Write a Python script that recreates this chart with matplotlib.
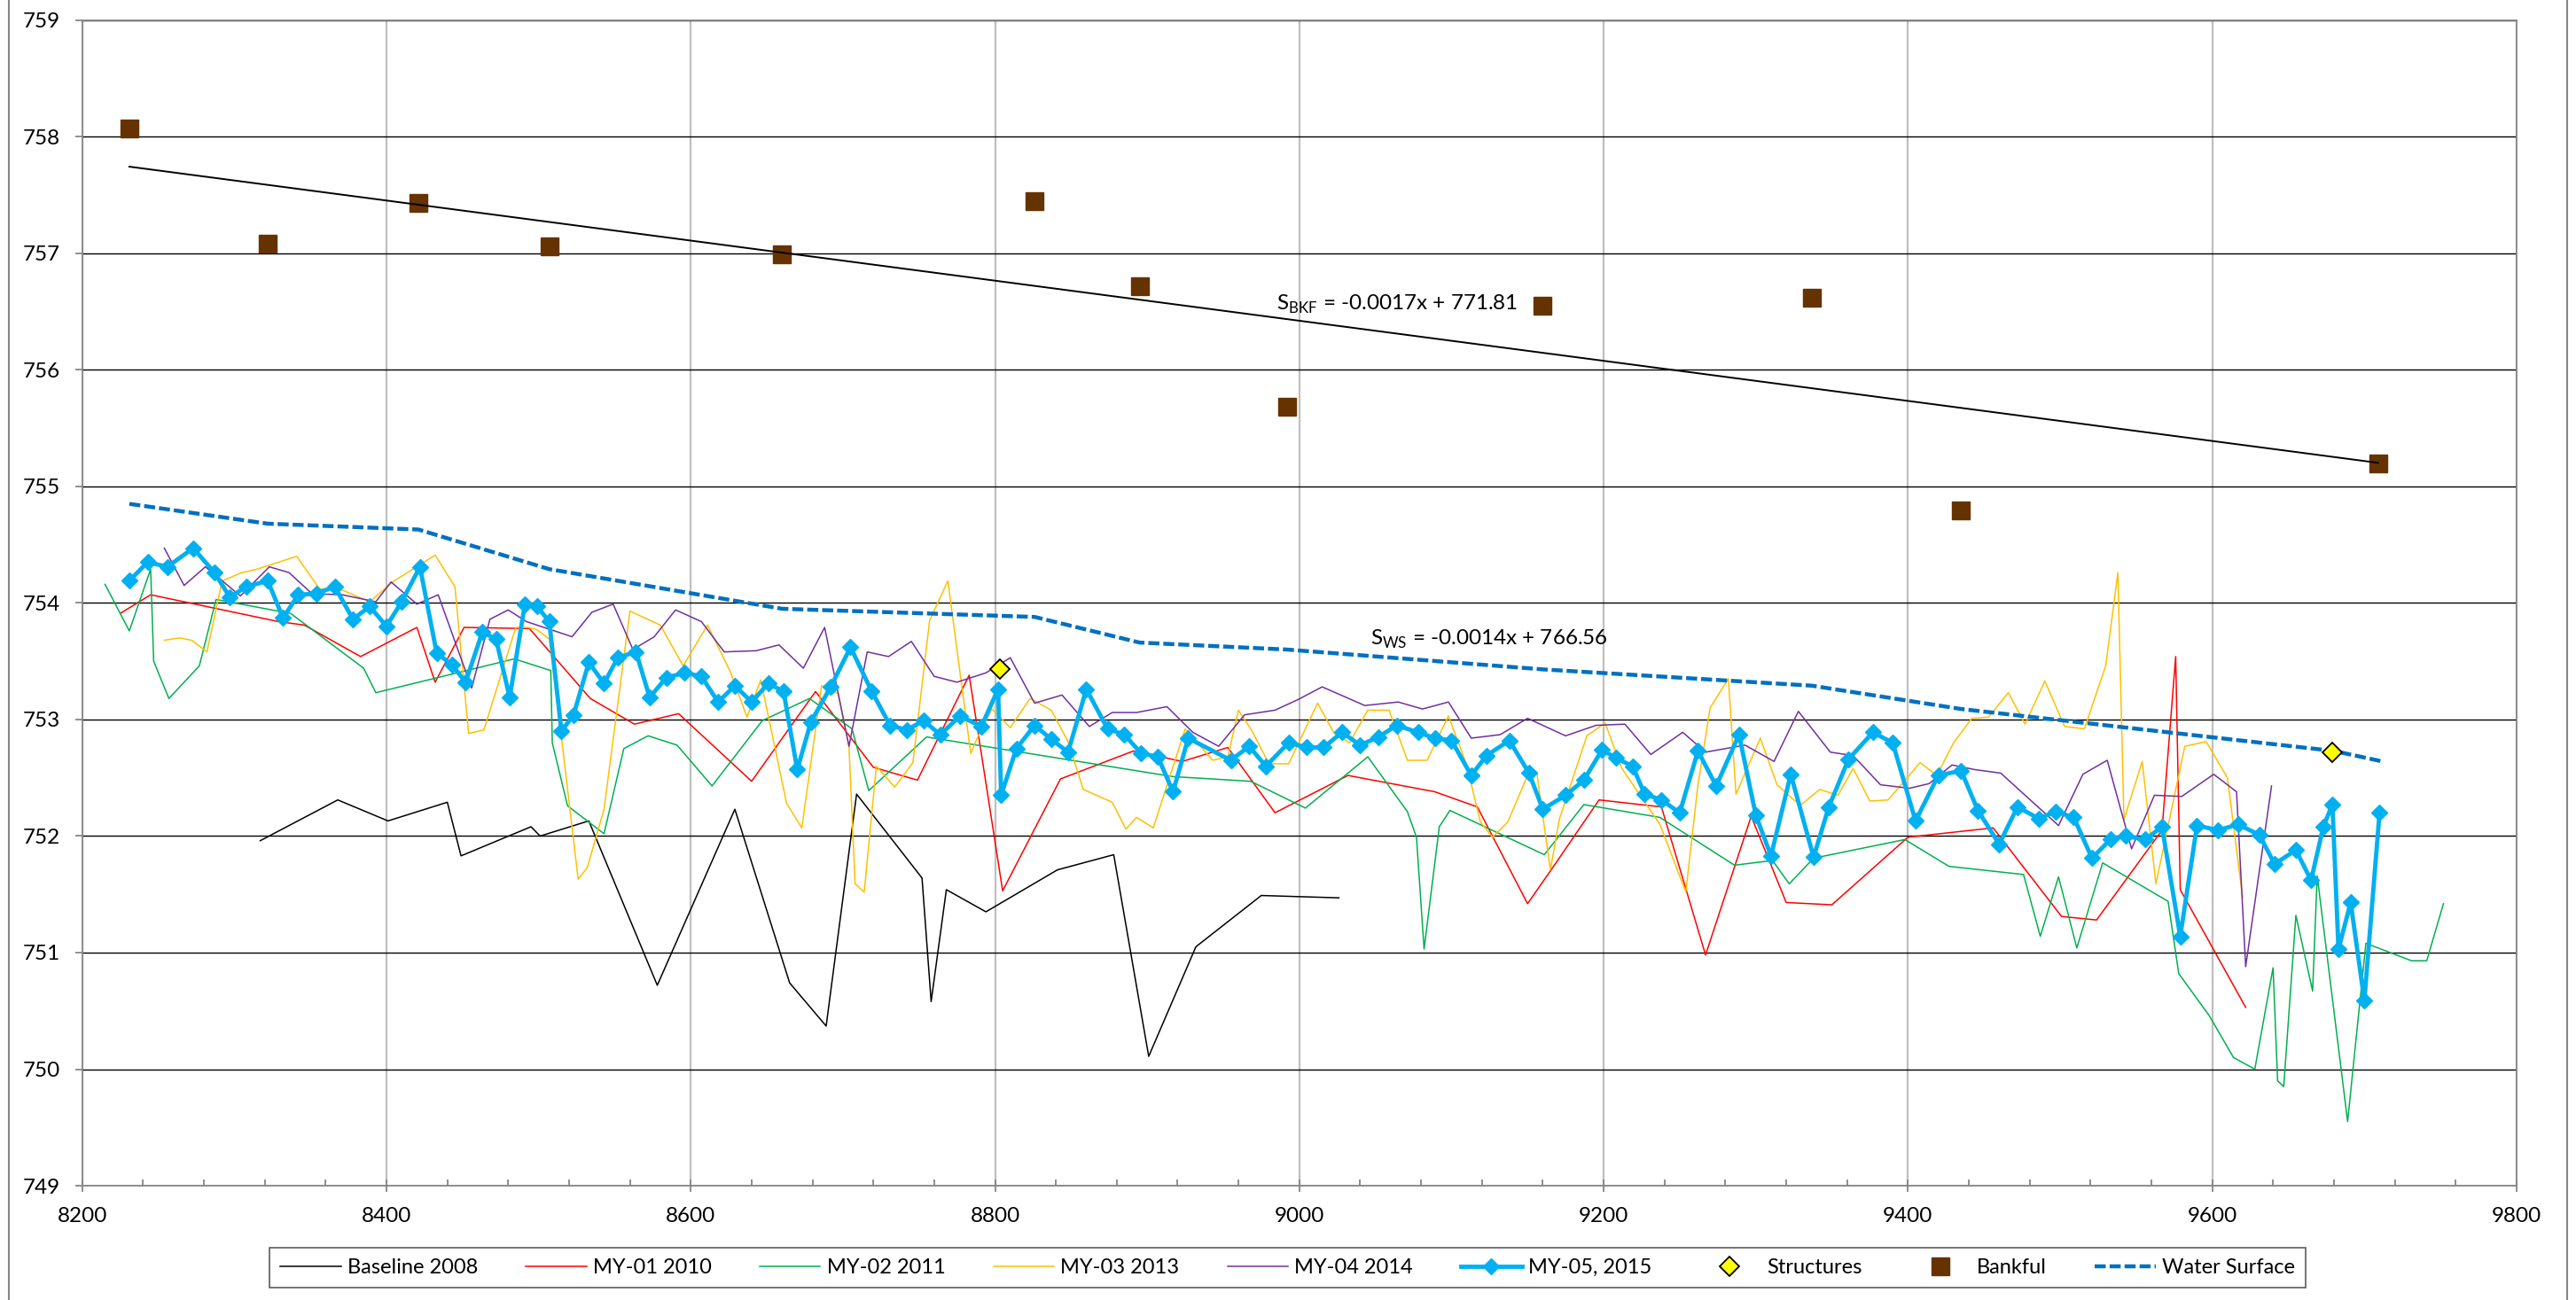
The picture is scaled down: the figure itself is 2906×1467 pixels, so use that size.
import matplotlib
matplotlib.use("Agg")
import matplotlib.pyplot as plt
import numpy as np
from matplotlib.lines import Line2D
from matplotlib.ticker import MultipleLocator

plt.rcParams['font.family'] = ['Lato', 'DejaVu Sans']
plt.rcParams['mathtext.fontset'] = 'custom'
plt.rcParams['mathtext.rm'] = 'Lato'
plt.rcParams['font.size'] = 17

# station (ft) / elevation (ft) for each survey
base_x = [8317, 8368, 8401, 8440, 8449, 8495, 8501, 8533, 8578, 8629, 8665, 8689,
          8709, 8752, 8758, 8768, 8794, 8841, 8878, 8901, 8932, 8975, 9026]
base_y = [751.96, 752.31, 752.13, 752.29, 751.83, 752.08, 752.00, 752.13, 750.72, 752.23,
          750.74, 750.37, 752.36, 751.64, 750.58, 751.54, 751.35, 751.71, 751.84, 750.11,
          751.05, 751.49, 751.47]

my01_x = [8225, 8245, 8329, 8346, 8383, 8420, 8432, 8451, 8494, 8534, 8563, 8592, 8640,
          8682, 8720, 8749, 8783, 8805, 8843, 8891, 8923, 8953, 8984, 9032, 9089, 9117,
          9150, 9165, 9197, 9238, 9267, 9297, 9320, 9350, 9400, 9456, 9501, 9524, 9567,
          9576, 9579, 9622]
my01_y = [753.91, 754.07, 753.84, 753.81, 753.54, 753.79, 753.32, 753.79, 753.78, 753.18,
          752.96, 753.05, 752.47, 753.24, 752.59, 752.48, 753.38, 751.53, 752.49, 752.73,
          752.64, 752.76, 752.20, 752.52, 752.38, 752.25, 751.42, 751.70, 752.31, 752.25,
          750.98, 752.17, 751.43, 751.41, 751.99, 752.07, 751.31, 751.28, 752.05, 753.54,
          751.54, 750.53]

my02_x = [8215, 8231, 8245, 8247, 8257, 8277, 8288, 8337, 8385, 8393, 8484, 8508, 8509,
          8519, 8543, 8556, 8572, 8591, 8614, 8647, 8678, 8706, 8717, 8755, 8917, 8968,
          9004, 9045, 9071, 9077, 9082, 9092, 9099, 9161, 9187, 9237, 9286, 9311, 9322,
          9338, 9398, 9427, 9476, 9487, 9499, 9511, 9528, 9571, 9578, 9598, 9614, 9628,
          9640, 9643, 9647, 9655, 9666, 9669, 9689, 9701, 9731, 9741, 9752]
my02_y = [754.16, 753.76, 754.29, 753.50, 753.18, 753.46, 754.03, 753.91, 753.44, 753.23,
          753.52, 753.42, 752.80, 752.26, 752.02, 752.75, 752.86, 752.78, 752.43, 752.99,
          753.18, 752.92, 752.39, 752.85, 752.51, 752.47, 752.24, 752.68, 752.21, 751.99,
          751.03, 752.08, 752.22, 751.84, 752.27, 752.16, 751.75, 751.79, 751.59, 751.81,
          751.97, 751.74, 751.67, 751.14, 751.65, 751.04, 751.77, 751.44, 750.82, 750.46,
          750.10, 750.00, 750.87, 749.90, 749.85, 751.32, 750.67, 751.66, 749.55, 751.08,
          750.93, 750.93, 751.42]

my03_x = [8254, 8264, 8272, 8282, 8292, 8305, 8315, 8341, 8356, 8362, 8371, 8389, 8404,
          8432, 8445, 8454, 8464, 8485, 8493, 8499, 8507, 8515, 8526, 8532, 8543, 8560,
          8580, 8595, 8611, 8626, 8637, 8646, 8663, 8673, 8686, 8697, 8704, 8708, 8714,
          8722, 8734, 8746, 8757, 8769, 8784, 8790, 8798, 8810, 8823, 8837, 8848, 8858,
          8877, 8886, 8893, 8904, 8925, 8943, 8953, 8960, 8969, 8980, 8993, 9012, 9023,
          9033, 9045, 9059, 9071, 9084, 9098, 9110, 9119, 9127, 9137, 9151, 9156, 9165,
          9171, 9189, 9201, 9212, 9237, 9254, 9262, 9270, 9282, 9287, 9303, 9314, 9325,
          9330, 9342, 9354, 9364, 9375, 9387, 9408, 9419, 9430, 9442, 9453, 9466, 9477,
          9490, 9503, 9516, 9530, 9538, 9542, 9554, 9563, 9582, 9596, 9610, 9620]
my03_y = [753.68, 753.70, 753.68, 753.58, 754.19, 754.26, 754.29, 754.40, 754.12, 754.12,
          754.11, 754.01, 754.18, 754.41, 754.14, 752.88, 752.91, 753.79, 753.79, 753.77,
          753.69, 752.85, 751.63, 751.73, 752.23, 753.93, 753.81, 753.46, 753.81, 753.41,
          753.02, 753.34, 752.28, 752.07, 753.29, 753.22, 752.77, 751.59, 751.52, 752.60,
          752.42, 752.63, 753.85, 754.19, 752.71, 752.89, 753.09, 752.93, 753.18, 753.08,
          752.81, 752.40, 752.29, 752.06, 752.16, 752.07, 752.92, 752.65, 752.68, 753.08,
          752.90, 752.62, 752.62, 753.14, 752.88, 752.80, 753.08, 753.08, 752.65, 752.65,
          753.03, 752.61, 752.12, 751.99, 752.12, 752.55, 752.55, 751.71, 752.15, 752.86,
          752.97, 752.58, 752.10, 751.52, 752.44, 753.10, 753.35, 752.36, 752.84, 752.44,
          752.31, 752.27, 752.40, 752.35, 752.58, 752.30, 752.31, 752.63, 752.52, 752.80,
          753.01, 753.02, 753.23, 752.96, 753.33, 752.94, 752.92, 753.46, 754.26, 752.14,
          752.64, 751.59, 752.77, 752.81, 752.50, 751.47]

my04_x = [8254, 8267, 8281, 8304, 8323, 8336, 8351, 8371, 8393, 8403, 8420, 8434, 8456,
          8468, 8480, 8492, 8522, 8535, 8549, 8562, 8576, 8590, 8607, 8622, 8643, 8658,
          8674, 8688, 8704, 8716, 8730, 8745, 8760, 8775, 8794, 8810, 8826, 8844, 8862,
          8877, 8893, 8913, 8930, 8947, 8964, 8984, 8999, 9015, 9043, 9065, 9081, 9098,
          9113, 9132, 9150, 9175, 9195, 9214, 9231, 9252, 9267, 9293, 9312, 9328, 9349,
          9364, 9382, 9401, 9414, 9429, 9444, 9461, 9499, 9515, 9531, 9547, 9562, 9580,
          9601, 9616, 9622, 9639]
my04_y = [754.47, 754.15, 754.31, 754.06, 754.31, 754.26, 754.08, 754.07, 754.01, 754.18,
          753.99, 754.07, 753.27, 753.86, 753.94, 753.84, 753.71, 753.92, 753.99, 753.60,
          753.71, 753.94, 753.84, 753.58, 753.59, 753.64, 753.44, 753.79, 752.77, 753.58,
          753.54, 753.67, 753.37, 753.32, 753.40, 753.53, 753.14, 753.21, 752.94, 753.06,
          753.06, 753.11, 752.89, 752.77, 753.04, 753.08, 753.17, 753.28, 753.12, 753.15,
          753.09, 753.15, 752.84, 752.87, 753.01, 752.86, 752.95, 752.96, 752.70, 752.89,
          752.72, 752.78, 752.64, 753.07, 752.72, 752.69, 752.44, 752.41, 752.45, 752.61,
          752.57, 752.54, 752.09, 752.53, 752.65, 751.89, 752.35, 752.34, 752.53, 752.38,
          750.88, 752.43]

my05_x = [8231, 8243, 8256, 8273, 8287, 8297, 8308, 8322, 8332, 8342, 8354, 8366, 8378,
          8389, 8400, 8410, 8422, 8433, 8443, 8452, 8463, 8472, 8481, 8491, 8499, 8507,
          8515, 8523, 8533, 8543, 8552, 8564, 8573, 8584, 8596, 8607, 8618, 8629, 8640,
          8651, 8661, 8670, 8679, 8692, 8705, 8719, 8731, 8742, 8753, 8764, 8777, 8791,
          8802, 8804, 8814, 8826, 8837, 8848, 8860, 8874, 8885, 8896, 8907, 8917, 8927,
          8955, 8967, 8978, 8993, 9005, 9016, 9028, 9040, 9052, 9064, 9078, 9089, 9100,
          9113, 9123, 9138, 9151, 9160, 9175, 9187, 9199, 9208, 9219, 9227, 9238, 9250,
          9262, 9274, 9289, 9300, 9310, 9323, 9338, 9348, 9361, 9377, 9390, 9405, 9420,
          9435, 9446, 9460, 9472, 9486, 9497, 9509, 9521, 9533, 9543, 9556, 9567, 9579,
          9590, 9604, 9617, 9631, 9641, 9655, 9665, 9673, 9679, 9683, 9691, 9700, 9710]
my05_y = [754.19, 754.35, 754.31, 754.47, 754.26, 754.05, 754.14, 754.19, 753.87, 754.07,
          754.08, 754.14, 753.86, 753.97, 753.80, 754.01, 754.31, 753.57, 753.47, 753.32,
          753.75, 753.69, 753.19, 753.99, 753.97, 753.84, 752.90, 753.04, 753.49, 753.31,
          753.53, 753.58, 753.19, 753.36, 753.40, 753.37, 753.15, 753.29, 753.15, 753.31,
          753.24, 752.57, 752.98, 753.28, 753.62, 753.24, 752.95, 752.91, 752.99, 752.87,
          753.03, 752.94, 753.26, 752.35, 752.75, 752.95, 752.83, 752.72, 753.26, 752.92,
          752.87, 752.71, 752.68, 752.38, 752.84, 752.65, 752.77, 752.60, 752.80, 752.76,
          752.76, 752.89, 752.78, 752.85, 752.95, 752.89, 752.84, 752.82, 752.52, 752.69,
          752.82, 752.54, 752.23, 752.35, 752.48, 752.74, 752.67, 752.60, 752.36, 752.31,
          752.20, 752.73, 752.43, 752.87, 752.18, 751.83, 752.53, 751.82, 752.25, 752.66,
          752.89, 752.80, 752.13, 752.52, 752.56, 752.22, 751.93, 752.25, 752.15, 752.21,
          752.16, 751.81, 751.97, 752.00, 751.97, 752.08, 751.14, 752.09, 752.05, 752.10,
          752.01, 751.76, 751.88, 751.62, 752.08, 752.27, 751.03, 751.43, 750.59, 752.20]

struct_x = [8803, 9679]
struct_y = [753.43, 752.72]

bkf_x = [8231, 8322, 8421, 8507, 8660, 8826, 8895, 8992, 9160, 9337, 9435, 9709]
bkf_y = [758.07, 757.08, 757.43, 757.06, 756.99, 757.45, 756.72, 755.68, 756.55, 756.62,
         754.79, 755.20]

ws_x = [8231, 8322, 8421, 8507, 8660, 8826, 8895, 8992, 9160, 9337, 9435, 9680, 9712]
ws_y = [754.85, 754.68, 754.63, 754.29, 753.95, 753.88, 753.66, 753.60, 753.43, 753.29,
        753.09, 752.73, 752.64]

fig = plt.figure(figsize=(29.06, 14.67), dpi=100)
ax = fig.add_axes([0.0319, 0.0879, 0.945, 0.8966])

thin = 1.1
ax.plot(base_x, base_y, color='black', lw=thin, label='Baseline 2008', zorder=3)
ax.plot(my01_x, my01_y, color='#FF0000', lw=thin, label='MY-01 2010', zorder=3)
ax.plot(my02_x, my02_y, color='#00B050', lw=thin, label='MY-02 2011', zorder=3)
ax.plot(my03_x, my03_y, color='#FFC000', lw=thin, label='MY-03 2013', zorder=3)
ax.plot(my04_x, my04_y, color='#7030A0', lw=thin, label='MY-04 2014', zorder=3)
ax.plot(my05_x, my05_y, color='#00B0F0', lw=3.5, marker='D', ms=9, mec='#00B0F0',
        label='MY-05, 2015', zorder=4)
ax.plot(struct_x, struct_y, ls='none', marker='D', ms=11, mfc='#FFFF00', mec='black',
        mew=1.3, label='Structures', zorder=7)
ax.plot(bkf_x, bkf_y, ls='none', marker='s', ms=14, color='#663300', label='Bankful', zorder=5)
ax.plot(ws_x, ws_y, color='#0070C0', lw=3.2, ls=(0, (2.8, 1.0)), label='Water Surface', zorder=6)

# linear trend through the bankful points
k, b = np.polyfit(bkf_x, bkf_y, 1)
tx = np.array([min(bkf_x), max(bkf_x)])
ax.plot(tx, k * tx + b, color='black', lw=1.4, zorder=5)

ax.text(8985, 756.51, r'S$_\mathrm{BKF}$ = -0.0017x + 771.81', fontsize=17.5, va='baseline')
ax.text(9047, 753.64, r'S$_\mathrm{WS}$ = -0.0014x + 766.56', fontsize=17.5, va='baseline')

ax.set_xlim(8200, 9800)
ax.set_ylim(749, 759)
ax.xaxis.set_major_locator(MultipleLocator(200))
ax.xaxis.set_minor_locator(MultipleLocator(40))
ax.yaxis.set_major_locator(MultipleLocator(1))

ax.grid(axis='y', color='black', lw=1.0, zorder=1)
ax.grid(axis='x', color='#BFBFBF', lw=1.6, zorder=1)
ax.set_axisbelow(True)
for s in ax.spines.values():
    s.set_color('#868686')
    s.set_linewidth(1.3)

ax.tick_params(axis='x', which='major', direction='inout', length=10, width=1.3,
               color='#868686', pad=12, labelsize=17.5)
ax.tick_params(axis='x', which='minor', direction='in', length=5, width=1.3, color='#868686')
ax.tick_params(axis='y', which='major', direction='out', length=6, width=1.3,
               color='#868686', pad=12, labelsize=17.5)

leg = ax.legend(loc='center', bbox_to_anchor=(0.4998, 0.0249), bbox_transform=fig.transFigure,
                ncol=9, fontsize=17, frameon=True, fancybox=False, numpoints=1,
                handlelength=2.9, handletextpad=0.3, columnspacing=2.3, borderpad=0.5)
leg.get_frame().set_edgecolor('#333333')
leg.get_frame().set_linewidth(1.2)

# chart area border
for xf in (10 / 2906, 2896 / 2906):
    fig.add_artist(Line2D([xf, xf], [0, 1], transform=fig.transFigure, color='#868686', lw=1.5))

fig.savefig('out.png', dpi=100)
